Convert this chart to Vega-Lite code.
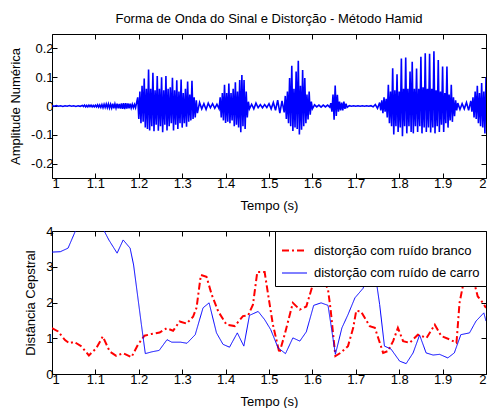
{
"$schema": "https://vega.github.io/schema/vega-lite/v6.json",
"background": "white",
"padding": {"left": 9, "top": 12, "right": 4, "bottom": 0},
"spacing": 13,
"resolve": {"legend": {"color": "independent", "strokeDash": "independent", "strokeWidth": "independent"}},
"config": {
  "font": "Liberation Sans",
  "view": {"stroke": null},
  "axis": {"labelFont": "Liberation Sans", "labelFontSize": 13, "labelColor": "black", "titleFont": "Liberation Sans", "titleFontSize": 13, "titleFontWeight": "normal", "titleColor": "black", "domainColor": "black", "tickColor": "black", "grid": false, "tickSize": -5, "labelPadding": 4, "domainWidth": 1, "tickWidth": 1},
  "axisX": {"titlePadding": 9},
  "axisY": {"titlePadding": 8},
  "legend": {"labelFont": "Liberation Sans", "labelFontSize": 13, "labelColor": "black", "labelLimit": 400}
},
"vconcat": [
{
  "title": {"text": "Forma de Onda do Sinal e Distorção - Método Hamid", "font": "Liberation Sans", "fontSize": 13, "fontWeight": "normal", "color": "black", "frame": "group", "anchor": "middle", "offset": 8},
  "width": 434, "height": 144,
  "data": {"values": [
{"t":1.000,"v":0.001},{"t":1.005,"v":-0.001},{"t":1.010,"v":0.0015},{"t":1.015,"v":-0.001},{"t":1.020,"v":0.001},{"t":1.025,"v":-0.0015},{"t":1.030,"v":0.001},{"t":1.035,"v":-0.001},{"t":1.040,"v":0.0015},{"t":1.045,"v":-0.001},
{"t":1.050,"v":0.001},{"t":1.055,"v":-0.0015},{"t":1.060,"v":0.001},{"t":1.065,"v":-0.001},{"t":1.070,"v":0.002},
{"t":1.0725,"v":-0.002},{"t":1.0750,"v":0.003},{"t":1.0775,"v":-0.003},{"t":1.0800,"v":0.002},{"t":1.0825,"v":-0.003},{"t":1.0850,"v":0.003},{"t":1.0875,"v":-0.002},{"t":1.0900,"v":0.003},{"t":1.0925,"v":-0.003},{"t":1.0950,"v":0.002},
{"t":1.0975,"v":-0.003},{"t":1.1000,"v":0.003},{"t":1.1025,"v":-0.003},{"t":1.1050,"v":0.004},{"t":1.1075,"v":-0.004},{"t":1.1100,"v":0.004},{"t":1.1125,"v":-0.005},{"t":1.1150,"v":0.005},{"t":1.1175,"v":-0.006},{"t":1.1200,"v":0.006},
{"t":1.1225,"v":-0.005},{"t":1.1250,"v":0.007},{"t":1.1275,"v":-0.006},{"t":1.1300,"v":0.007},{"t":1.1325,"v":-0.007},{"t":1.1350,"v":0.006},{"t":1.1375,"v":-0.007},{"t":1.1400,"v":0.008},{"t":1.1425,"v":-0.008},{"t":1.1450,"v":0.007},
{"t":1.1475,"v":-0.007},{"t":1.1500,"v":0.008},{"t":1.1525,"v":-0.008},{"t":1.1550,"v":0.007},{"t":1.1575,"v":-0.009},{"t":1.1600,"v":0.009},{"t":1.1625,"v":-0.010},{"t":1.1650,"v":0.010},{"t":1.1675,"v":-0.011},{"t":1.1700,"v":0.010},
{"t":1.1725,"v":-0.009},{"t":1.1750,"v":0.009},{"t":1.1775,"v":-0.008},{"t":1.1800,"v":0.008},{"t":1.1825,"v":-0.007},{"t":1.1850,"v":0.006},{"t":1.1875,"v":-0.006},{"t":1.1900,"v":0.005},{"t":1.1925,"v":-0.006},
{"t":1.1975,"v":0.030},{"t":1.2000,"v":-0.045},{"t":1.2025,"v":0.050},{"t":1.2050,"v":-0.060},{"t":1.2075,"v":0.070},{"t":1.2100,"v":-0.055},{"t":1.2125,"v":0.095},{"t":1.2150,"v":-0.075},{"t":1.2175,"v":0.060},{"t":1.2200,"v":-0.080},
{"t":1.2225,"v":0.127},{"t":1.2250,"v":-0.085},{"t":1.2275,"v":0.060},{"t":1.2300,"v":-0.070},{"t":1.2325,"v":0.115},{"t":1.2350,"v":-0.088},{"t":1.2375,"v":0.055},{"t":1.2400,"v":-0.065},{"t":1.2425,"v":0.104},{"t":1.2450,"v":-0.086},
{"t":1.2475,"v":0.060},{"t":1.2500,"v":-0.070},{"t":1.2525,"v":0.100},{"t":1.2550,"v":-0.091},{"t":1.2575,"v":0.055},{"t":1.2600,"v":-0.065},{"t":1.2625,"v":0.104},{"t":1.2650,"v":-0.085},{"t":1.2675,"v":0.060},{"t":1.2700,"v":-0.070},
{"t":1.2725,"v":0.065},{"t":1.2750,"v":-0.060},{"t":1.2775,"v":0.098},{"t":1.2800,"v":-0.085},{"t":1.2825,"v":0.055},{"t":1.2850,"v":-0.065},{"t":1.2875,"v":0.089},{"t":1.2900,"v":-0.080},{"t":1.2925,"v":0.050},{"t":1.2950,"v":-0.060},
{"t":1.2975,"v":0.092},{"t":1.3000,"v":-0.075},{"t":1.3025,"v":0.045},{"t":1.3050,"v":-0.060},{"t":1.3075,"v":0.060},{"t":1.3100,"v":-0.072},{"t":1.3125,"v":0.085},{"t":1.3150,"v":-0.055},{"t":1.3175,"v":0.040},{"t":1.3200,"v":-0.050},
{"t":1.3225,"v":0.088},{"t":1.3250,"v":-0.045},{"t":1.3275,"v":0.030},{"t":1.3300,"v":-0.040},{"t":1.3325,"v":0.020},{"t":1.3350,"v":-0.025},
{"t":1.340,"v":0.012},{"t":1.345,"v":-0.010},{"t":1.350,"v":0.008},{"t":1.355,"v":-0.012},{"t":1.360,"v":0.010},{"t":1.365,"v":-0.006},{"t":1.370,"v":0.008},{"t":1.375,"v":-0.008},{"t":1.380,"v":0.006},{"t":1.385,"v":-0.010},
{"t":1.3875,"v":0.030},{"t":1.3900,"v":-0.040},{"t":1.3925,"v":0.045},{"t":1.3950,"v":-0.050},{"t":1.3975,"v":0.074},{"t":1.4000,"v":-0.059},{"t":1.4025,"v":0.045},{"t":1.4050,"v":-0.055},{"t":1.4075,"v":0.078},{"t":1.4100,"v":-0.060},
{"t":1.4125,"v":0.045},{"t":1.4150,"v":-0.050},{"t":1.4175,"v":0.060},{"t":1.4200,"v":-0.070},{"t":1.4225,"v":0.082},{"t":1.4250,"v":-0.065},{"t":1.4275,"v":0.050},{"t":1.4300,"v":-0.075},{"t":1.4325,"v":0.090},{"t":1.4350,"v":-0.091},
{"t":1.4375,"v":0.108},{"t":1.4400,"v":-0.070},{"t":1.4425,"v":0.090},{"t":1.4450,"v":-0.080},{"t":1.4475,"v":0.050},{"t":1.4500,"v":-0.040},{"t":1.4525,"v":0.015},{"t":1.4550,"v":-0.010},
{"t":1.460,"v":0.006},{"t":1.465,"v":-0.010},{"t":1.470,"v":0.010},{"t":1.475,"v":-0.006},{"t":1.480,"v":0.005},{"t":1.485,"v":-0.006},{"t":1.490,"v":0.005},{"t":1.495,"v":-0.005},{"t":1.500,"v":0.008},{"t":1.505,"v":-0.010},
{"t":1.510,"v":0.012},{"t":1.515,"v":-0.015},{"t":1.520,"v":0.020},{"t":1.525,"v":-0.025},{"t":1.530,"v":0.018},{"t":1.535,"v":-0.022},
{"t":1.5375,"v":0.035},{"t":1.5400,"v":-0.045},{"t":1.5425,"v":0.050},{"t":1.5450,"v":-0.060},{"t":1.5475,"v":0.097},{"t":1.5500,"v":-0.070},{"t":1.5525,"v":0.140},{"t":1.5550,"v":-0.087},{"t":1.5575,"v":0.060},{"t":1.5600,"v":-0.075},
{"t":1.5625,"v":0.120},{"t":1.5650,"v":-0.080},{"t":1.5675,"v":0.157},{"t":1.5700,"v":-0.099},{"t":1.5725,"v":0.070},{"t":1.5750,"v":-0.082},{"t":1.5775,"v":0.125},{"t":1.5800,"v":-0.070},{"t":1.5825,"v":0.097},{"t":1.5850,"v":-0.060},
{"t":1.5875,"v":0.040},{"t":1.5900,"v":-0.047},{"t":1.5925,"v":0.050},{"t":1.5950,"v":-0.030},{"t":1.5975,"v":0.015},{"t":1.6000,"v":-0.010},
{"t":1.605,"v":0.004},{"t":1.610,"v":-0.003},{"t":1.615,"v":0.003},{"t":1.620,"v":-0.004},{"t":1.625,"v":0.003},{"t":1.630,"v":-0.003},{"t":1.635,"v":0.003},{"t":1.640,"v":-0.004},
{"t":1.6425,"v":0.010},{"t":1.6450,"v":-0.020},{"t":1.6475,"v":0.040},{"t":1.6500,"v":-0.048},{"t":1.6525,"v":0.071},{"t":1.6550,"v":-0.035},{"t":1.6575,"v":0.039},{"t":1.6600,"v":-0.020},{"t":1.6625,"v":0.015},{"t":1.6650,"v":-0.015},
{"t":1.6675,"v":0.012},{"t":1.6700,"v":-0.015},{"t":1.6725,"v":0.015},{"t":1.6750,"v":-0.010},{"t":1.6775,"v":0.008},{"t":1.6800,"v":-0.005},
{"t":1.685,"v":0.001},{"t":1.690,"v":-0.001},{"t":1.695,"v":0.001},{"t":1.700,"v":-0.001},{"t":1.705,"v":0.001},{"t":1.710,"v":-0.001},{"t":1.715,"v":0.001},{"t":1.720,"v":-0.001},{"t":1.725,"v":0.001},{"t":1.730,"v":-0.001},
{"t":1.735,"v":0.001},{"t":1.740,"v":-0.003},{"t":1.745,"v":0.005},{"t":1.750,"v":-0.008},{"t":1.755,"v":0.012},
{"t":1.7575,"v":-0.015},{"t":1.7600,"v":0.020},{"t":1.7625,"v":-0.025},{"t":1.7650,"v":0.030},{"t":1.7675,"v":-0.020},{"t":1.7700,"v":0.025},{"t":1.7725,"v":-0.040},{"t":1.7750,"v":0.074},{"t":1.7775,"v":-0.060},{"t":1.7800,"v":0.050},
{"t":1.7825,"v":-0.070},{"t":1.7850,"v":0.131},{"t":1.7875,"v":-0.099},{"t":1.7900,"v":0.055},{"t":1.7925,"v":-0.070},{"t":1.7950,"v":0.110},{"t":1.7975,"v":-0.090},{"t":1.8000,"v":0.050},{"t":1.8025,"v":-0.075},{"t":1.8050,"v":0.165},
{"t":1.8075,"v":-0.105},{"t":1.8100,"v":0.060},{"t":1.8125,"v":-0.070},{"t":1.8150,"v":0.168},{"t":1.8175,"v":-0.095},{"t":1.8200,"v":0.060},{"t":1.8225,"v":-0.070},{"t":1.8250,"v":0.120},{"t":1.8275,"v":-0.090},{"t":1.8300,"v":0.154},
{"t":1.8325,"v":-0.095},{"t":1.8350,"v":0.060},{"t":1.8375,"v":-0.070},{"t":1.8400,"v":0.130},{"t":1.8425,"v":-0.090},{"t":1.8450,"v":0.060},{"t":1.8475,"v":-0.070},{"t":1.8500,"v":0.171},{"t":1.8525,"v":-0.095},{"t":1.8550,"v":0.065},
{"t":1.8575,"v":-0.075},{"t":1.8600,"v":0.183},{"t":1.8625,"v":-0.090},{"t":1.8650,"v":0.060},{"t":1.8675,"v":-0.075},{"t":1.8700,"v":0.181},{"t":1.8725,"v":-0.092},{"t":1.8750,"v":0.060},{"t":1.8775,"v":-0.075},{"t":1.8800,"v":0.190},
{"t":1.8825,"v":-0.095},{"t":1.8850,"v":0.055},{"t":1.8875,"v":-0.070},{"t":1.8900,"v":0.160},{"t":1.8925,"v":-0.090},{"t":1.8950,"v":0.050},{"t":1.8975,"v":-0.065},{"t":1.9000,"v":0.137},{"t":1.9025,"v":-0.090},{"t":1.9050,"v":0.045},
{"t":1.9075,"v":-0.060},{"t":1.9100,"v":0.137},{"t":1.9125,"v":-0.075},{"t":1.9150,"v":0.040},{"t":1.9175,"v":-0.050},{"t":1.9200,"v":0.074},{"t":1.9225,"v":-0.055},{"t":1.9250,"v":0.030},{"t":1.9275,"v":-0.035},{"t":1.9300,"v":0.020},
{"t":1.9325,"v":-0.015},
{"t":1.935,"v":0.010},{"t":1.940,"v":-0.012},{"t":1.945,"v":0.008},{"t":1.950,"v":-0.010},{"t":1.955,"v":0.012},{"t":1.960,"v":-0.015},{"t":1.965,"v":0.018},
{"t":1.9675,"v":-0.020},{"t":1.9700,"v":0.030},{"t":1.9725,"v":-0.040},{"t":1.9750,"v":0.050},{"t":1.9775,"v":-0.045},{"t":1.9800,"v":0.070},{"t":1.9825,"v":-0.060},{"t":1.9850,"v":0.045},{"t":1.9875,"v":-0.070},{"t":1.9900,"v":0.080},
{"t":1.9925,"v":-0.075},{"t":1.9950,"v":0.050},{"t":1.9975,"v":-0.095},{"t":2.0000,"v":0.100}
  ]},
  "layer": [
    {"mark": {"type": "line", "color": "#0000ff", "strokeWidth": 1.6, "clip": true},
     "encoding": {
       "x": {"field": "t", "type": "quantitative", "scale": {"domain": [1, 2], "nice": false, "zero": false},
             "axis": {"orient": "bottom", "values": [1,1.1,1.2,1.3,1.4,1.5,1.6,1.7,1.8,1.9,2], "format": "~g", "title": "Tempo (s)"}},
       "y": {"field": "v", "type": "quantitative", "scale": {"domain": [-0.25, 0.25], "nice": false, "zero": false},
             "axis": {"orient": "left", "values": [-0.2,-0.1,0,0.1,0.2], "format": "~g", "labelExpr": "replace(datum.label, '\u2212', '-')", "title": "Amplitude Numérica"}}
     }},
    {"data": {"values": [{"t": 1, "v": 0}]},
     "mark": {"type": "line", "strokeOpacity": 0},
     "encoding": {
       "x": {"field": "t", "type": "quantitative", "axis": {"orient": "top", "values": [1,1.1,1.2,1.3,1.4,1.5,1.6,1.7,1.8,1.9,2], "labels": false, "title": null}},
       "y": {"field": "v", "type": "quantitative", "axis": {"orient": "right", "values": [-0.2,-0.1,0,0.1,0.2], "labels": false, "title": null}}
     }}
  ],
  "resolve": {"axis": {"x": "independent", "y": "independent"}}
},
{
  "width": 434, "height": 143,
  "data": {"values": [
{"t":1.000,"d":1.28,"s":"distorção com ruído branco"},{"t":1.014,"d":1.19,"s":"distorção com ruído branco"},{"t":1.030,"d":0.95,"s":"distorção com ruído branco"},{"t":1.040,"d":0.86,"s":"distorção com ruído branco"},{"t":1.051,"d":0.90,"s":"distorção com ruído branco"},
{"t":1.068,"d":0.77,"s":"distorção com ruído branco"},{"t":1.085,"d":0.52,"s":"distorção com ruído branco"},{"t":1.102,"d":0.72,"s":"distorção com ruído branco"},{"t":1.117,"d":1.05,"s":"distorção com ruído branco"},{"t":1.133,"d":0.63,"s":"distorção com ruído branco"},
{"t":1.148,"d":0.51,"s":"distorção com ruído branco"},{"t":1.164,"d":0.58,"s":"distorção com ruído branco"},{"t":1.183,"d":0.47,"s":"distorção com ruído branco"},{"t":1.198,"d":0.82,"s":"distorção com ruído branco"},{"t":1.213,"d":1.07,"s":"distorção com ruído branco"},
{"t":1.229,"d":1.12,"s":"distorção com ruído branco"},{"t":1.248,"d":1.16,"s":"distorção com ruído branco"},{"t":1.264,"d":1.28,"s":"distorção com ruído branco"},{"t":1.279,"d":1.21,"s":"distorção com ruído branco"},{"t":1.294,"d":1.47,"s":"distorção com ruído branco"},
{"t":1.310,"d":1.41,"s":"distorção com ruído branco"},{"t":1.325,"d":1.60,"s":"distorção com ruído branco"},{"t":1.333,"d":1.85,"s":"distorção com ruído branco"},{"t":1.343,"d":2.77,"s":"distorção com ruído branco"},{"t":1.356,"d":2.72,"s":"distorção com ruído branco"},
{"t":1.368,"d":2.22,"s":"distorção com ruído branco"},{"t":1.383,"d":1.75,"s":"distorção com ruído branco"},{"t":1.402,"d":1.38,"s":"distorção com ruído branco"},{"t":1.421,"d":1.34,"s":"distorção com ruído branco"},{"t":1.440,"d":1.62,"s":"distorção com ruído branco"},
{"t":1.452,"d":1.64,"s":"distorção com ruído branco"},{"t":1.463,"d":1.94,"s":"distorção com ruído branco"},{"t":1.473,"d":2.85,"s":"distorção com ruído branco"},{"t":1.490,"d":2.85,"s":"distorção com ruído branco"},{"t":1.498,"d":2.22,"s":"distorção com ruído branco"},
{"t":1.509,"d":1.38,"s":"distorção com ruído branco"},{"t":1.524,"d":0.59,"s":"distorção com ruído branco"},{"t":1.536,"d":1.10,"s":"distorção com ruído branco"},{"t":1.555,"d":1.99,"s":"distorção com ruído branco"},{"t":1.571,"d":1.80,"s":"distorção com ruído branco"},
{"t":1.586,"d":1.89,"s":"distorção com ruído branco"},{"t":1.601,"d":2.50,"s":"distorção com ruído branco"},{"t":1.621,"d":2.77,"s":"distorção com ruído branco"},{"t":1.636,"d":2.36,"s":"distorção com ruído branco"},{"t":1.642,"d":1.80,"s":"distorção com ruído branco"},
{"t":1.653,"d":0.50,"s":"distorção com ruído branco"},{"t":1.666,"d":0.60,"s":"distorção com ruído branco"},{"t":1.682,"d":0.78,"s":"distorção com ruído branco"},{"t":1.694,"d":1.29,"s":"distorção com ruído branco"},{"t":1.701,"d":1.77,"s":"distorção com ruído branco"},
{"t":1.712,"d":1.75,"s":"distorção com ruído branco"},{"t":1.732,"d":1.34,"s":"distorção com ruído branco"},{"t":1.744,"d":1.29,"s":"distorção com ruído branco"},{"t":1.763,"d":0.59,"s":"distorção com ruído branco"},{"t":1.774,"d":0.64,"s":"distorção com ruído branco"},
{"t":1.786,"d":0.92,"s":"distorção com ruído branco"},{"t":1.797,"d":1.29,"s":"distorção com ruído branco"},{"t":1.809,"d":0.92,"s":"distorção com ruído branco"},{"t":1.824,"d":0.87,"s":"distorção com ruído branco"},{"t":1.843,"d":1.10,"s":"distorção com ruído branco"},
{"t":1.863,"d":1.01,"s":"distorção com ruído branco"},{"t":1.882,"d":1.38,"s":"distorção com ruído branco"},{"t":1.897,"d":1.06,"s":"distorção com ruído branco"},{"t":1.916,"d":0.97,"s":"distorção com ruído branco"},{"t":1.932,"d":0.87,"s":"distorção com ruído branco"},
{"t":1.939,"d":1.99,"s":"distorção com ruído branco"},{"t":1.954,"d":2.91,"s":"distorção com ruído branco"},{"t":1.962,"d":3.00,"s":"distorção com ruído branco"},{"t":1.970,"d":2.68,"s":"distorção com ruído branco"},{"t":1.981,"d":2.17,"s":"distorção com ruído branco"},
{"t":1.993,"d":1.99,"s":"distorção com ruído branco"},{"t":2.000,"d":1.85,"s":"distorção com ruído branco"},
{"t":1.000,"d":3.41,"s":"distorção com ruído de carro"},{"t":1.019,"d":3.42,"s":"distorção com ruído de carro"},{"t":1.037,"d":3.52,"s":"distorção com ruído de carro"},{"t":1.055,"d":4.03,"s":"distorção com ruído de carro"},{"t":1.075,"d":4.50,"s":"distorção com ruído de carro"},
{"t":1.100,"d":4.45,"s":"distorção com ruído de carro"},{"t":1.119,"d":4.03,"s":"distorção com ruído de carro"},{"t":1.131,"d":3.75,"s":"distorção com ruído de carro"},{"t":1.150,"d":3.38,"s":"distorção com ruído de carro"},{"t":1.164,"d":3.75,"s":"distorção com ruído de carro"},
{"t":1.180,"d":3.52,"s":"distorção com ruído de carro"},{"t":1.188,"d":3.05,"s":"distorção com ruído de carro"},{"t":1.206,"d":1.38,"s":"distorção com ruído de carro"},{"t":1.215,"d":0.57,"s":"distorção com ruído de carro"},{"t":1.230,"d":0.62,"s":"distorção com ruído de carro"},
{"t":1.247,"d":0.66,"s":"distorção com ruído de carro"},{"t":1.265,"d":0.96,"s":"distorção com ruído de carro"},{"t":1.276,"d":0.89,"s":"distorção com ruído de carro"},{"t":1.296,"d":0.89,"s":"distorção com ruído de carro"},{"t":1.311,"d":0.86,"s":"distorção com ruído de carro"},
{"t":1.330,"d":1.10,"s":"distorção com ruído de carro"},{"t":1.348,"d":1.85,"s":"distorção com ruído de carro"},{"t":1.362,"d":1.99,"s":"distorção com ruído de carro"},{"t":1.379,"d":1.15,"s":"distorção com ruído de carro"},{"t":1.394,"d":0.83,"s":"distorção com ruído de carro"},
{"t":1.409,"d":0.75,"s":"distorção com ruído de carro"},{"t":1.427,"d":1.15,"s":"distorção com ruído de carro"},{"t":1.442,"d":0.78,"s":"distorção com ruído de carro"},{"t":1.455,"d":1.64,"s":"distorção com ruído de carro"},{"t":1.475,"d":1.75,"s":"distorção com ruído de carro"},
{"t":1.490,"d":1.52,"s":"distorção com ruído de carro"},{"t":1.504,"d":1.24,"s":"distorção com ruído de carro"},{"t":1.521,"d":0.73,"s":"distorção com ruído de carro"},{"t":1.538,"d":0.57,"s":"distorção com ruído de carro"},{"t":1.555,"d":1.01,"s":"distorção com ruído de carro"},
{"t":1.571,"d":0.92,"s":"distorção com ruído de carro"},{"t":1.586,"d":1.18,"s":"distorção com ruído de carro"},{"t":1.603,"d":1.92,"s":"distorção com ruído de carro"},{"t":1.620,"d":1.99,"s":"distorção com ruído de carro"},{"t":1.636,"d":1.92,"s":"distorção com ruído de carro"},
{"t":1.653,"d":0.55,"s":"distorção com ruído de carro"},{"t":1.668,"d":1.29,"s":"distorção com ruído de carro"},{"t":1.682,"d":1.66,"s":"distorção com ruído de carro"},{"t":1.698,"d":2.13,"s":"distorção com ruído de carro"},{"t":1.717,"d":2.40,"s":"distorção com ruído de carro"},
{"t":1.735,"d":3.20,"s":"distorção com ruído de carro"},{"t":1.743,"d":2.95,"s":"distorção com ruído de carro"},{"t":1.755,"d":1.94,"s":"distorção com ruído de carro"},{"t":1.766,"d":0.78,"s":"distorção com ruído de carro"},{"t":1.781,"d":0.70,"s":"distorção com ruído de carro"},
{"t":1.801,"d":0.36,"s":"distorção com ruído de carro"},{"t":1.816,"d":0.29,"s":"distorção com ruído de carro"},{"t":1.832,"d":0.59,"s":"distorção com ruído de carro"},{"t":1.847,"d":1.09,"s":"distorção com ruído de carro"},{"t":1.862,"d":0.59,"s":"distorção com ruído de carro"},
{"t":1.878,"d":0.53,"s":"distorção com ruído de carro"},{"t":1.893,"d":0.55,"s":"distorção com ruído de carro"},{"t":1.912,"d":0.45,"s":"distorção com ruído de carro"},{"t":1.927,"d":0.59,"s":"distorção com ruído de carro"},{"t":1.942,"d":1.10,"s":"distorção com ruído de carro"},
{"t":1.962,"d":1.15,"s":"distorção com ruído de carro"},{"t":1.977,"d":1.48,"s":"distorção com ruído de carro"},{"t":1.995,"d":1.71,"s":"distorção com ruído de carro"},{"t":2.000,"d":1.48,"s":"distorção com ruído de carro"}
  ]},
  "layer": [
    {"mark": {"type": "line", "clip": true},
     "encoding": {
       "x": {"field": "t", "type": "quantitative", "scale": {"domain": [1, 2], "nice": false, "zero": false},
             "axis": {"orient": "bottom", "values": [1,1.1,1.2,1.3,1.4,1.5,1.6,1.7,1.8,1.9,2], "format": "~g", "title": "Tempo (s)"}},
       "y": {"field": "d", "type": "quantitative", "scale": {"domain": [0, 4], "nice": false},
             "axis": {"orient": "left", "values": [0,1,2,3,4], "format": "~g", "title": "Distância Cepstral"}},
       "color": {"field": "s", "type": "nominal",
                 "scale": {"domain": ["distorção com ruído branco", "distorção com ruído de carro"], "range": ["#ff0000", "#0000ff"]},
                 "legend": {"title": null, "orient": "top-right", "offset": 0, "fillColor": "white", "strokeColor": "black", "padding": 6, "symbolType": "stroke", "symbolSize": 625, "labelOffset": 6, "rowPadding": 2, "symbolOpacity": 1, "labelLimit": 400}},
       "strokeDash": {"field": "s", "type": "nominal",
                 "scale": {"domain": ["distorção com ruído branco", "distorção com ruído de carro"], "range": [[7,3,2,3],[1,0]]}},
       "strokeWidth": {"field": "s", "type": "nominal",
                 "scale": {"domain": ["distorção com ruído branco", "distorção com ruído de carro"], "range": [2, 1]}}
     }},
    {"data": {"values": [{"t": 1, "d": 0}]},
     "mark": {"type": "line", "strokeOpacity": 0},
     "encoding": {
       "x": {"field": "t", "type": "quantitative", "axis": {"orient": "top", "values": [1,1.1,1.2,1.3,1.4,1.5,1.6,1.7,1.8,1.9,2], "labels": false, "title": null}},
       "y": {"field": "d", "type": "quantitative", "axis": {"orient": "right", "values": [0,1,2,3,4], "labels": false, "title": null}}
     }}
  ],
  "resolve": {"axis": {"x": "independent", "y": "independent"}}
}
]
}
